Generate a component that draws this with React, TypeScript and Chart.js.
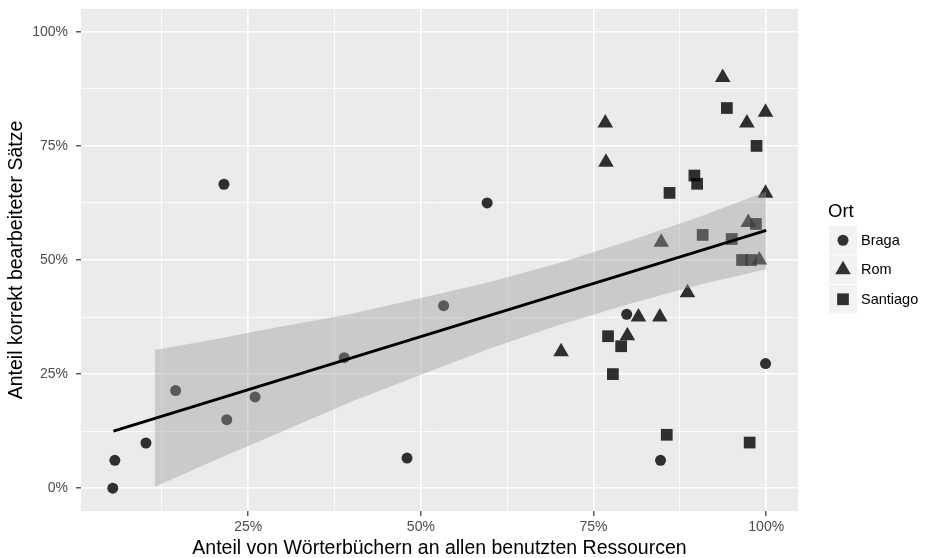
import React, { useEffect, useRef } from 'react';
import { Chart, registerables } from 'chart.js';

Chart.register(...registerables);

// Data (percent values)
const bragaX = [5.4, 5.7, 10.2, 14.5, 21.5, 21.9, 26.0, 38.9, 48.0, 53.3, 59.6, 79.8, 84.7, 99.9];
const bragaY = [0.0, 6.1, 9.9, 21.4, 66.6, 15.0, 20.0, 28.6, 6.6, 40.0, 62.5, 38.1, 6.1, 27.3];

const romX = [93.7, 76.7, 97.2, 99.9, 76.8, 99.9, 97.4, 84.8, 99.0, 88.6, 81.5, 84.6, 79.9, 70.3];
const romY = [90.0, 80.0, 80.0, 82.4, 71.4, 64.6, 58.2, 53.9, 50.0, 42.8, 37.5, 37.5, 33.4, 29.9];

const santiagoX = [94.3, 98.6, 89.6, 90.0, 86.0, 98.5, 90.8, 95.0, 96.5, 97.8, 77.1, 79.0, 77.8, 85.6, 97.6];
const santiagoY = [83.3, 75.0, 68.5, 66.7, 64.7, 57.9, 55.5, 54.6, 50.0, 50.0, 33.3, 31.1, 25.0, 11.7, 10.0];

// Regression line and its confidence band
const fitX = [5.5, 100];
const fitY = [12.5, 56.5];
const bandX = [11.5, 20, 30, 40, 50, 60, 70, 80, 90, 100];
const bandUpper = [30.3, 32.6, 35.5, 38.2, 41.65, 45.2, 49.35, 54.1, 59.25, 65.0];
const bandLower = [0.3, 6.0, 12.5, 19.0, 24.85, 30.6, 35.75, 40.3, 44.45, 48.0];

const xTicks = [12.5, 25, 37.5, 50, 62.5, 75, 87.5, 100];
const yTicks = [0, 12.5, 25, 37.5, 50, 62.5, 75, 87.5, 100];
const majorStep = 25;

const groups = ['Braga', 'Rom', 'Santiago'];
const legendTitle = 'Ort';
const xTitle = 'Anteil von Wörterbüchern an allen benutzten Ressourcen';
const yTitle = 'Anteil korrekt bearbeiteter Sätze';

const FONT = "'Liberation Sans', Arial, Helvetica, sans-serif";
const POINT_COLOR = 'rgba(0,0,0,0.8)';
const styles = ['circle', 'triangle', 'rect'];
const radii = [5.5, 9, 8.3];

const toXY = (xs: number[], ys: number[]) => xs.map((x, i) => ({ x, y: ys[i] }));
const isMajor = (v: number) => Math.abs(v % majorStep) < 1e-9;

function drawSymbol(ctx: CanvasRenderingContext2D, style: string, r: number, x: number, y: number) {
  ctx.beginPath();
  if (style === 'circle') {
    ctx.arc(x, y, r, 0, Math.PI * 2);
  } else if (style === 'triangle') {
    let rad = 0;
    ctx.moveTo(x + Math.sin(rad) * r, y - Math.cos(rad) * r);
    rad += (Math.PI * 2) / 3;
    ctx.lineTo(x + Math.sin(rad) * r, y - Math.cos(rad) * r);
    rad += (Math.PI * 2) / 3;
    ctx.lineTo(x + Math.sin(rad) * r, y - Math.cos(rad) * r);
    ctx.closePath();
  } else {
    const s = Math.SQRT1_2 * r;
    ctx.rect(x - s, y - s, 2 * s, 2 * s);
  }
  ctx.fill();
}

const panelPlugin = {
  id: 'panelBg',
  beforeDraw(chart: any) {
    const { ctx, chartArea: a } = chart;
    ctx.save();
    ctx.fillStyle = '#EBEBEB';
    ctx.fillRect(a.left, a.top, a.right - a.left, a.bottom - a.top);
    ctx.restore();
  },
};

const legendPlugin = {
  id: 'ggLegend',
  afterDraw(chart: any) {
    const { ctx } = chart;
    const left = 829;
    const keyW = 28;
    const keyH = 28.5;
    const step = 29.5;
    const top0 = 226;
    ctx.save();
    ctx.fillStyle = '#000';
    ctx.font = `18.5px ${FONT}`;
    ctx.textBaseline = 'middle';
    ctx.textAlign = 'left';
    ctx.fillText(legendTitle, 828, 212);
    groups.forEach((g, i) => {
      const top = top0 + i * step;
      ctx.fillStyle = '#F2F2F2';
      ctx.fillRect(left, top, keyW, keyH);
      ctx.fillStyle = POINT_COLOR;
      drawSymbol(ctx, styles[i], radii[i], left + keyW / 2, top + keyH / 2);
      ctx.fillStyle = '#000';
      ctx.font = `14.5px ${FONT}`;
      ctx.fillText(g, 861, top + keyH / 2 + 0.5);
    });
    ctx.restore();
  },
};

export default function App() {
  const ref = useRef<HTMLCanvasElement | null>(null);

  useEffect(() => {
    if (!ref.current) return;
    const pointSets = [toXY(bragaX, bragaY), toXY(romX, romY), toXY(santiagoX, santiagoY)];
    const chart = new Chart(ref.current, {
      type: 'scatter',
      data: {
        datasets: [
          {
            type: 'line',
            label: 'fit',
            data: toXY(fitX, fitY),
            borderColor: '#000000',
            borderWidth: 3,
            pointRadius: 0,
            fill: false,
            order: 0,
          } as any,
          {
            type: 'line',
            label: 'upper',
            data: toXY(bandX, bandUpper),
            borderWidth: 0,
            borderColor: 'rgba(0,0,0,0)',
            pointRadius: 0,
            backgroundColor: 'rgba(153,153,153,0.4)',
            fill: '+1',
            order: 1,
          } as any,
          {
            type: 'line',
            label: 'lower',
            data: toXY(bandX, bandLower),
            borderWidth: 0,
            borderColor: 'rgba(0,0,0,0)',
            pointRadius: 0,
            fill: false,
            order: 1,
          } as any,
          ...groups.map((g, i) => ({
            label: g,
            data: pointSets[i],
            pointStyle: styles[i],
            pointRadius: radii[i],
            pointBackgroundColor: POINT_COLOR,
            pointBorderWidth: 0,
            order: 2,
          })),
        ],
      },
      options: {
        animation: false,
        responsive: false,
        layout: { padding: { top: 8, right: 127, left: 0, bottom: 0 } },
        plugins: { legend: { display: false }, tooltip: { enabled: false } },
        scales: {
          x: {
            type: 'linear',
            min: 0.8,
            max: 104.6,
            afterBuildTicks: (scale: any) => {
              scale.ticks = xTicks.map((v) => ({ value: v }));
            },
            afterFit: (scale: any) => {
              scale.height = 47;
              scale.paddingLeft = 0;
              scale.paddingRight = 0;
            },
            border: { display: false },
            grid: {
              color: '#FFFFFF',
              lineWidth: (c: any) => (c.tick && isMajor(c.tick.value) ? 1.6 : 0.8),
              tickColor: (c: any) => (c.tick && isMajor(c.tick.value) ? '#333333' : 'rgba(0,0,0,0)'),
              tickLength: 5,
              tickWidth: 1.2,
            },
            ticks: {
              autoSkip: false,
              maxRotation: 0,
              padding: 3,
              color: '#4D4D4D',
              font: { family: FONT, size: 14 },
              callback: (v: any) => (isMajor(Number(v)) ? `${v}%` : ''),
            },
            title: {
              display: true,
              text: xTitle,
              color: '#000000',
              font: { family: FONT, size: 19.5, lineHeight: 1.0 },
              padding: { top: 0, bottom: 0 },
            },
          },
          y: {
            type: 'linear',
            min: -5,
            max: 105,
            afterBuildTicks: (scale: any) => {
              scale.ticks = yTicks.map((v) => ({ value: v }));
            },
            afterFit: (scale: any) => {
              scale.width = 81;
              scale.paddingTop = 0;
              scale.paddingBottom = 0;
            },
            border: { display: false },
            grid: {
              color: '#FFFFFF',
              lineWidth: (c: any) => (c.tick && isMajor(c.tick.value) ? 1.6 : 0.8),
              tickColor: (c: any) => (c.tick && isMajor(c.tick.value) ? '#333333' : 'rgba(0,0,0,0)'),
              tickLength: 5,
              tickWidth: 1.2,
            },
            ticks: {
              autoSkip: false,
              padding: 8,
              color: '#4D4D4D',
              font: { family: FONT, size: 14 },
              callback: (v: any) => (isMajor(Number(v)) ? `${v}%` : ''),
            },
            title: {
              display: true,
              text: yTitle,
              color: '#000000',
              font: { family: FONT, size: 19.5, lineHeight: 1.0 },
              padding: { top: 7.25, bottom: 0 },
            },
          },
        },
      },
      plugins: [panelPlugin, legendPlugin],
    } as any);
    return () => chart.destroy();
  }, []);

  return (
    <div style={{ position: 'absolute', left: 0, top: 0, width: 925, height: 558 }}>
      <canvas ref={ref} width={925} height={558} style={{ display: 'block', width: 925, height: 558 }} />
    </div>
  );
}
